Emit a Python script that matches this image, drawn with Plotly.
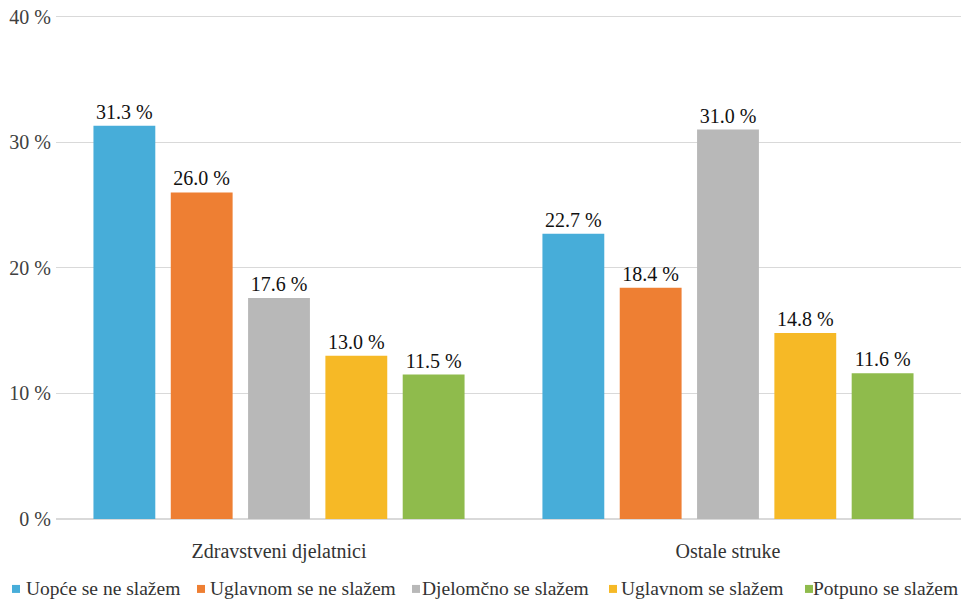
import plotly.graph_objects as go

categories = ["Zdravstveni djelatnici", "Ostale struke"]
series_names = ["Uopće se ne slažem", "Uglavnom se ne slažem", "Djelomčno se slažem",
                "Uglavnom se slažem", "Potpuno se slažem"]
values_uopce = [31.3, 22.7]
values_uglavnom_ne = [26.0, 18.4]
values_djelomicno = [17.6, 31.0]
values_uglavnom = [13.0, 14.8]
values_potpuno = [11.5, 11.6]
y_tick_values = [0, 10, 20, 30, 40]
y_tick_labels = ["0 %", "10 %", "20 %", "30 %", "40 %"]
colors = ["#47ADD9", "#EE7F33", "#B8B8B8", "#F6B926", "#8FBB4C"]

all_values = [values_uopce, values_uglavnom_ne, values_djelomicno, values_uglavnom, values_potpuno]

FONT = "Liberation Serif"
W, H = 965, 601
L, R, T, B = 56, 4, 13.5, 82
PW, PH = W - L - R, H - T - B

fig = go.Figure()
for name, vals, col in zip(series_names, all_values, colors):
    fig.add_trace(go.Bar(
        x=categories, y=vals, name=name,
        marker=dict(color=col, line=dict(width=0)),
        text=[f"{v:.1f} %" for v in vals],
        textposition="outside",
        textfont=dict(family=FONT, size=20, color="#111111"),
        cliponaxis=False,
        showlegend=False,
    ))

# custom legend (page-pixel layout converted to paper coords)
legend_sym_px = [12, 197, 412, 609, 805]
legend_txt_px = [24, 208, 420, 619, 811]
shapes = []
annotations = []
def px_x(p):
    return (p - L) / PW
def px_y(p):
    return (H - B - p) / PH
for name, col, xs, xt in zip(series_names, colors, legend_sym_px, legend_txt_px):
    shapes.append(dict(type="rect", xref="paper", yref="paper",
                       x0=px_x(xs), x1=px_x(xs + 8), y0=px_y(593), y1=px_y(585),
                       fillcolor=col, line=dict(width=0)))
    annotations.append(dict(text=name, xref="paper", yref="paper",
                            x=px_x(xt), y=px_y(589), xanchor="left", yanchor="middle",
                            showarrow=False,
                            font=dict(family=FONT, size=19.5, color="#333333")))

fig.update_layout(
    width=W, height=H,
    margin=dict(l=L, r=R, t=T, b=B, autoexpand=False),
    paper_bgcolor="white", plot_bgcolor="white",
    barmode="group", bargap=0.139, bargroupgap=0.2,
    font=dict(family=FONT, size=20, color="#404040"),
    showlegend=False,
    shapes=shapes, annotations=annotations,
    xaxis=dict(showgrid=False, showline=False, ticks="outside", ticklen=14,
               tickcolor="rgba(0,0,0,0)", range=[-0.4967, 1.519],
               tickfont=dict(family=FONT, size=20, color="#333333")),
    yaxis=dict(range=[0, 40.2], tickmode="array", tickvals=y_tick_values,
               ticktext=y_tick_labels, showgrid=True,
               gridcolor="#D9D9D9", gridwidth=1, zeroline=True, zerolinecolor="#D9D9D9",
               zerolinewidth=2, showline=False, ticklabelstandoff=4,
               ticklabeloverflow="allow",
               tickfont=dict(family=FONT, size=20, color="#404040")),
)

fig.write_html("out.html", config={"displayModeBar": False},
               post_script="document.body.style.margin='0';")
